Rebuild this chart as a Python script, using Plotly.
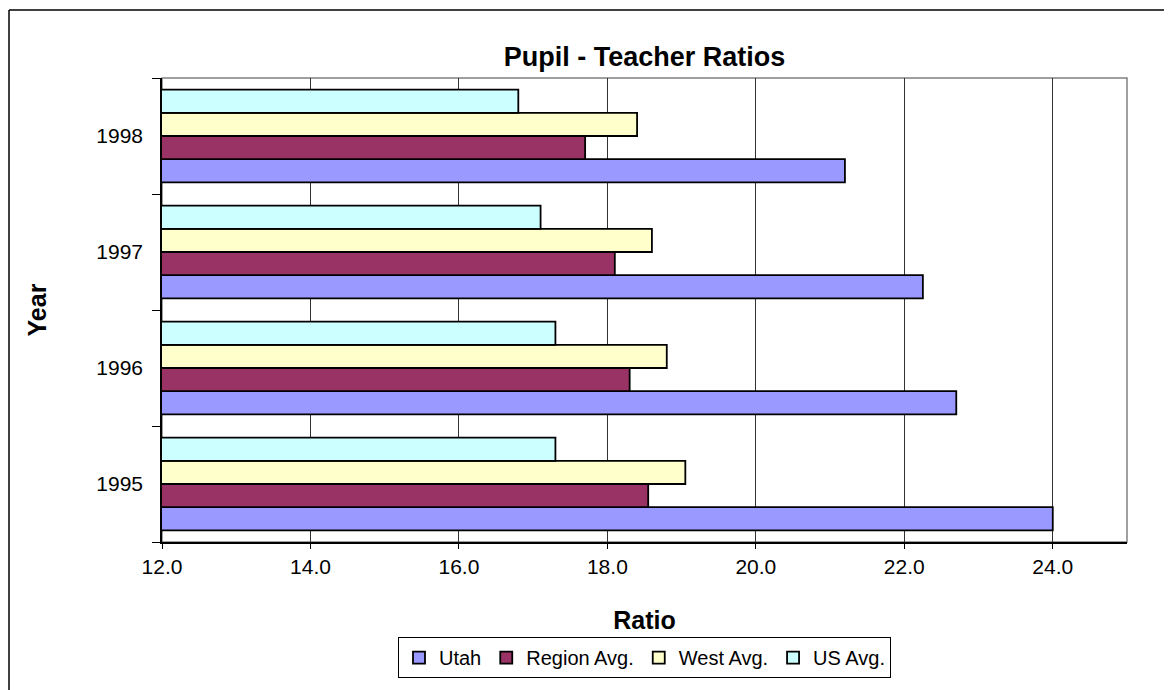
import plotly.graph_objects as go

years = ["1995", "1996", "1997", "1998"]
utah = [24.0, 22.7, 22.25, 21.2]
region_avg = [18.55, 18.3, 18.1, 17.7]
west_avg = [19.05, 18.8, 18.6, 18.4]
us_avg = [17.3, 17.3, 17.1, 16.8]

series = [
    ("Utah", utah, "#9999FF"),
    ("Region Avg.", region_avg, "#993366"),
    ("West Avg.", west_avg, "#FFFFCC"),
    ("US Avg.", us_avg, "#CCFFFF"),
]

font = "Liberation Sans, Arial, sans-serif"

# page body has an 8px margin, so the figure is a bit smaller than the window
W, H = 1164, 682

fig = go.Figure()
for name, vals, color in series:
    fig.add_trace(go.Bar(
        y=years, x=vals, name=name, orientation="h",
        marker=dict(color=color, line=dict(color="black", width=1.8)),
    ))

frame_left = -153 / 965
frame_top = 69 / 470 + 1

fig.update_layout(
    template="none",
    width=W, height=H,
    margin=dict(l=154, r=45, t=70, b=142),
    paper_bgcolor="white", plot_bgcolor="white",
    font=dict(family=font, size=21, color="black"),
    barmode="group", bargap=0.2, bargroupgap=0,
    title=dict(text="<b>Pupil - Teacher Ratios</b>", x=0.5, xref="paper",
               y=1 - 49 / H, yanchor="middle", font=dict(size=27)),
    xaxis=dict(
        range=[12, 25], tickvals=[12, 14, 16, 18, 20, 22, 24], tickformat=".1f",
        showgrid=True, gridcolor="#333333", gridwidth=1,
        ticks="outside", ticklen=5, tickcolor="black",
        showline=True, linecolor="black", linewidth=1.5, zeroline=False,
        title=dict(text="<b>Ratio</b>", standoff=35),
        automargin=False,
    ),
    yaxis=dict(
        type="category", showgrid=False, tickson="boundaries",
        ticks="outside", ticklen=8, tickcolor="black", ticklabelstandoff=13,
        showline=True, linecolor="black", linewidth=1.5,
        title=dict(text="<b>Year</b>", standoff=43),
        automargin=False,
    ),
    legend=dict(
        orientation="h", traceorder="normal",
        x=0.5, xanchor="center", y=-0.205, yanchor="top",
        bordercolor="black", borderwidth=1, bgcolor="white",
        font=dict(size=20), itemclick=False, itemwidth=30,
    ),
    shapes=[
        dict(type="rect", xref="paper", yref="paper", x0=0, x1=1, y0=0, y1=1,
             line=dict(color="#808080", width=1.5), layer="below"),
        # outer chart frame (only top and left edges fall inside the window)
        dict(type="line", xref="paper", yref="paper",
             x0=frame_left, x1=1.2, y0=frame_top, y1=frame_top,
             line=dict(color="black", width=1.5)),
        dict(type="line", xref="paper", yref="paper",
             x0=frame_left, x1=frame_left, y0=frame_top, y1=-0.6,
             line=dict(color="black", width=1.5)),
    ],
)

fig.write_html("out.html")
